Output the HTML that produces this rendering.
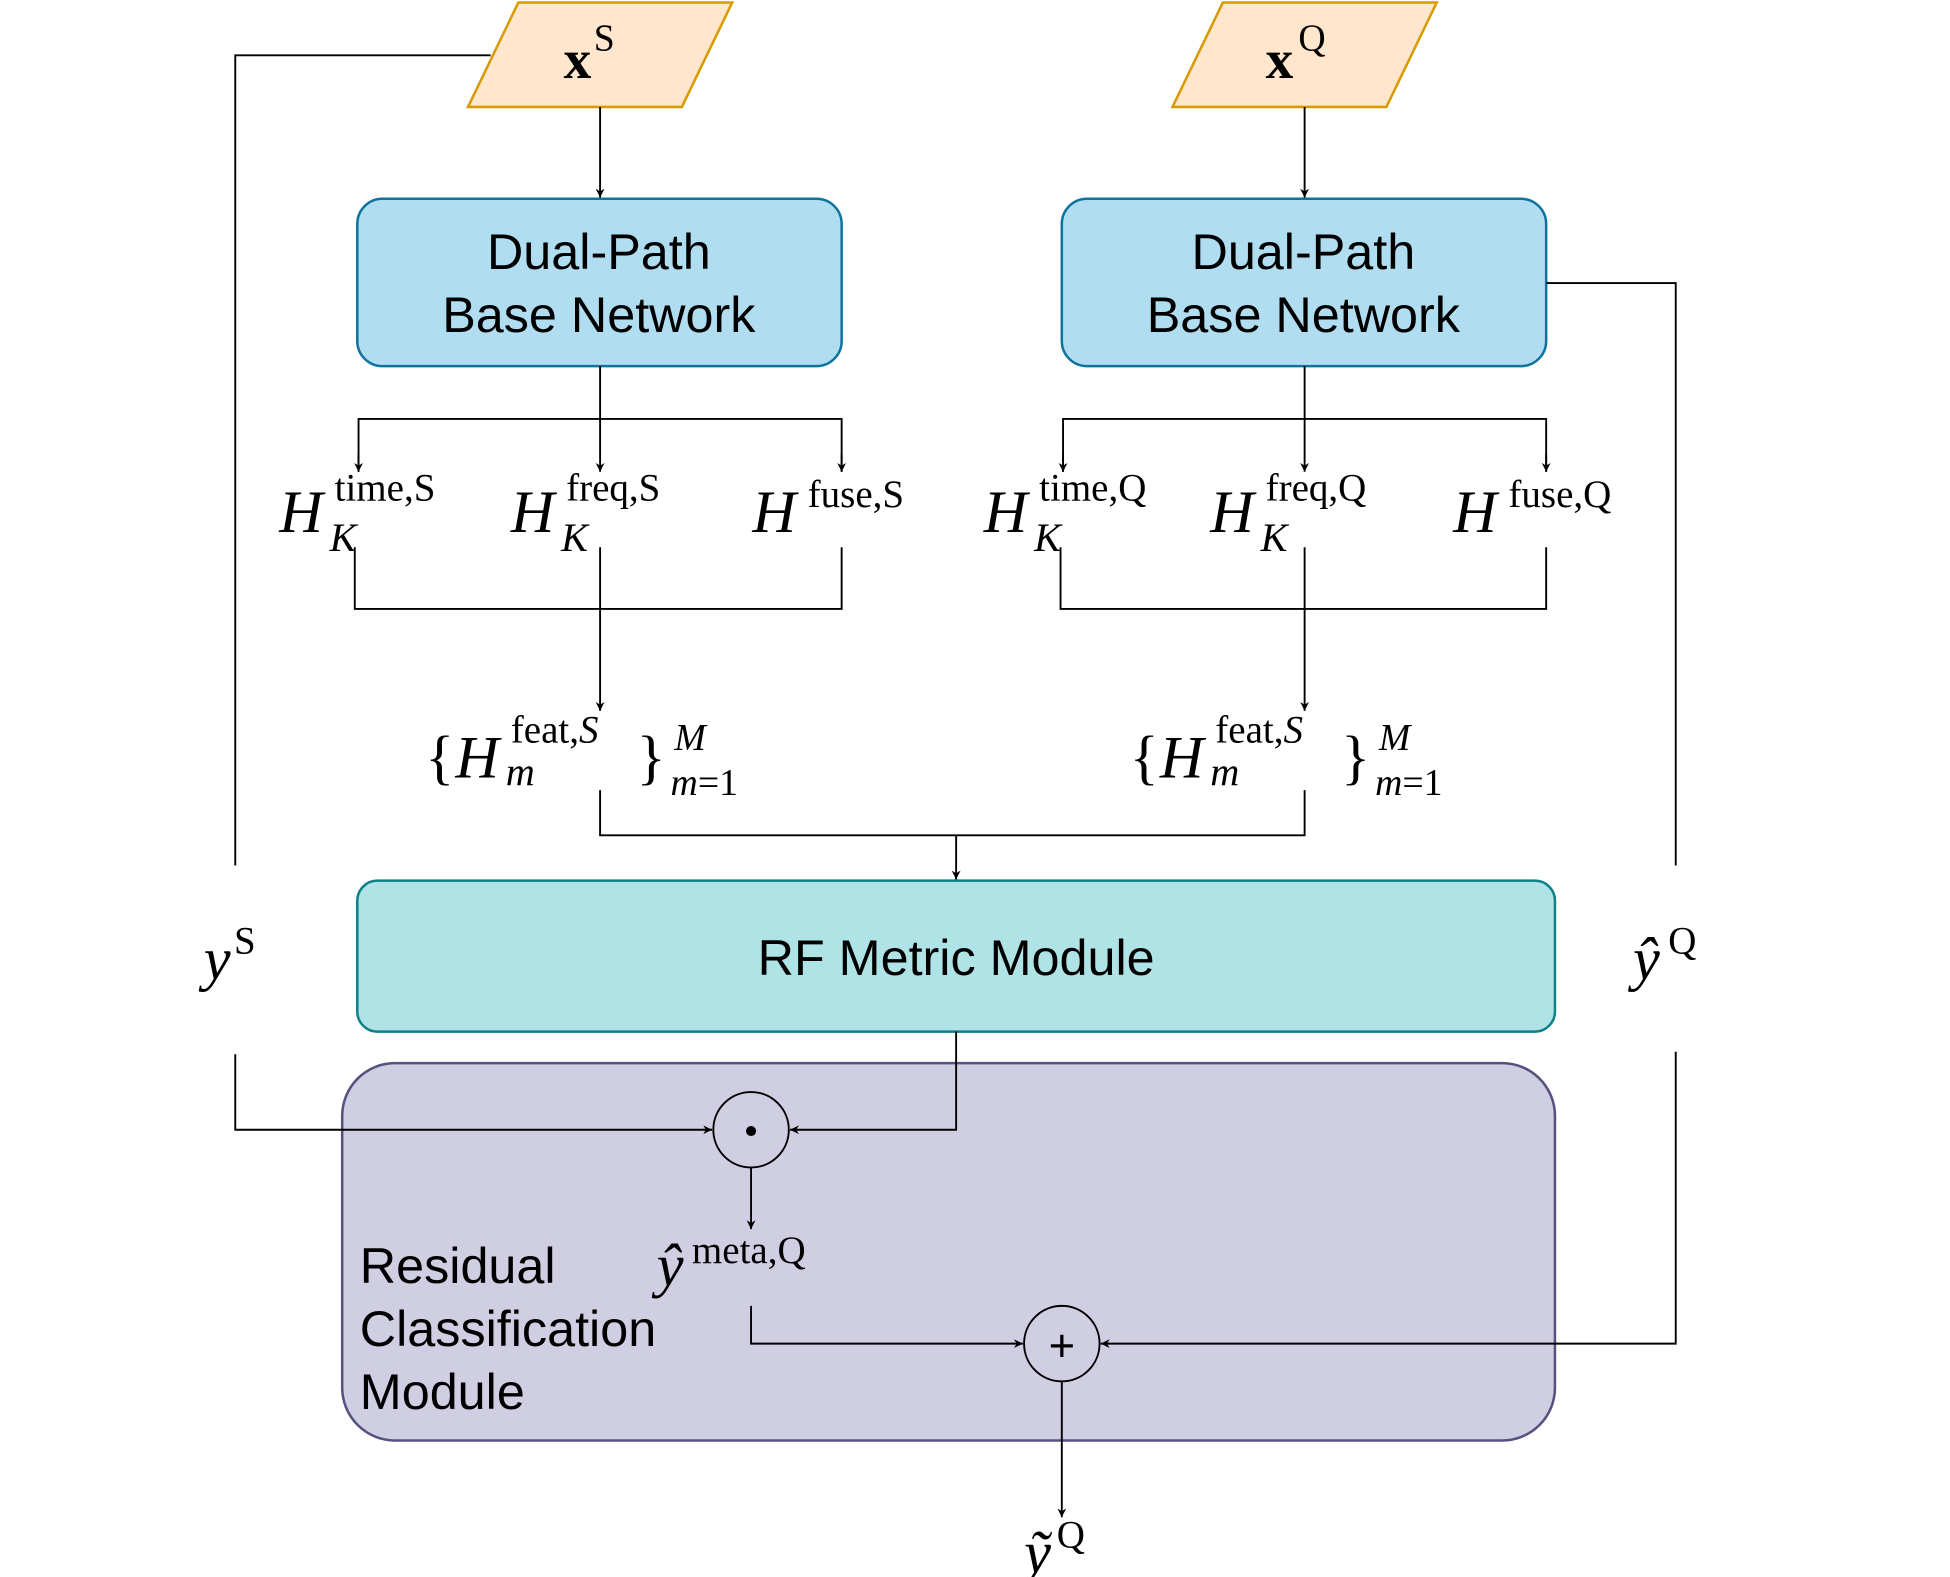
<!DOCTYPE html>
<html><head><meta charset="utf-8"><style>html,body{margin:0;padding:0;background:#fff}svg{display:block}</style></head>
<body>
<svg width="1950" height="1577" viewBox="0 0 1550 1253.5" xmlns="http://www.w3.org/2000/svg">
<defs><marker id="a" viewBox="0 0 10 10" refX="10" refY="5" markerWidth="7" markerHeight="9" orient="auto" markerUnits="userSpaceOnUse"><path d="M0,0 L10,5 L0,10 L3,5 Z" fill="#000"/></marker></defs>
<g fill="none" stroke="#000" stroke-width="1.5">
<polygon points="372,85 412,2 582,2 542,85" fill="#ffe6cc" stroke="#d79b00" stroke-width="2"/>
<polygon points="932,85 972,2 1142,2 1102,85" fill="#ffe6cc" stroke="#d79b00" stroke-width="2"/>
<rect x="284" y="158" width="385" height="133" rx="20" fill="#b1ddf0" stroke="#10739e" stroke-width="2"/>
<rect x="844" y="158" width="385" height="133" rx="20" fill="#b1ddf0" stroke="#10739e" stroke-width="2"/>
<rect x="272" y="845" width="964" height="300" rx="42" fill="#d0cee2" stroke="#56517e" stroke-width="2"/>
<rect x="284" y="700" width="952" height="120" rx="16" fill="#b0e3e6" stroke="#0e8088" stroke-width="2"/>
<line x1="477" y1="85" x2="477" y2="157" marker-end="url(#a)"/>
<line x1="1037" y1="85" x2="1037" y2="157" marker-end="url(#a)"/>
<polyline points="390,44 187,44 187,688"/>
<polyline points="187,838 187,898 566,898" marker-end="url(#a)"/>
<line x1="477" y1="291" x2="477" y2="375" marker-end="url(#a)"/>
<polyline points="285,375 285,333 669,333 669,375" />
<line x1="285" y1="360" x2="285" y2="375" marker-end="url(#a)"/>
<line x1="669" y1="360" x2="669" y2="375" marker-end="url(#a)"/>
<line x1="1037" y1="291" x2="1037" y2="375" marker-end="url(#a)"/>
<polyline points="845,375 845,333 1229,333 1229,375" />
<line x1="845" y1="360" x2="845" y2="375" marker-end="url(#a)"/>
<line x1="1229" y1="360" x2="1229" y2="375" marker-end="url(#a)"/>
<polyline points="282,435 282,484 669,484 669,435"/>
<polyline points="843,435 843,484 1229,484 1229,435"/>
<line x1="477" y1="435" x2="477" y2="565" marker-end="url(#a)"/>
<line x1="1037" y1="435" x2="1037" y2="565" marker-end="url(#a)"/>
<polyline points="477,628 477,664 1037,664 1037,628"/>
<line x1="760" y1="664" x2="760" y2="699" marker-end="url(#a)"/>
<polyline points="1229,225 1332,225 1332,688"/>
<polyline points="1332,836 1332,1068 875,1068" marker-end="url(#a)"/>
<polyline points="760,820 760,898 628,898" marker-end="url(#a)"/>
<circle cx="597" cy="898" r="30" fill="none"/>
<line x1="597" y1="928" x2="597" y2="977" marker-end="url(#a)"/>
<polyline points="597,1038 597,1068 813,1068" marker-end="url(#a)"/>
<circle cx="844" cy="1068" r="30" fill="none"/>
<line x1="844" y1="1098" x2="844" y2="1206" marker-end="url(#a)"/>
</g>
<circle cx="597" cy="899" r="4" fill="#000"/>
<text x="844" y="1082" font-family="Liberation Sans, sans-serif" font-size="36" text-anchor="middle">+</text>
<g font-family="Liberation Sans, sans-serif" font-size="40" fill="#000" text-anchor="middle">
<text x="476" y="214">Dual-Path</text><text x="476" y="264">Base Network</text>
<text x="1036" y="214">Dual-Path</text><text x="1036" y="264">Base Network</text>
<text x="760" y="775">RF Metric Module</text>
</g>
<g font-family="Liberation Sans, sans-serif" font-size="40" fill="#000">
<text x="286" y="1020">Residual</text><text x="286" y="1070">Classification</text><text x="286" y="1120">Module</text>
</g>
<g font-family="Liberation Serif, serif" fill="#000">
<text x="448" y="62" font-size="44" font-weight="bold">x</text><text x="472" y="40" font-size="30">S</text>
<text x="1006" y="62" font-size="44" font-weight="bold">x</text><text x="1032" y="40" font-size="30">Q</text>
<g font-size="48" font-style="italic">
<text x="222" y="423">H</text><text x="262" y="438" font-size="32">K</text><text x="266" y="398" font-size="31" font-style="normal">time,S</text>
<text x="406" y="423">H</text><text x="446" y="438" font-size="32">K</text><text x="450" y="398" font-size="31" font-style="normal">freq,S</text>
<text x="598" y="423">H</text><text x="642" y="403" font-size="31" font-style="normal">fuse,S</text>
<text x="782" y="423">H</text><text x="822" y="438" font-size="32">K</text><text x="826" y="398" font-size="31" font-style="normal">time,Q</text>
<text x="962" y="423">H</text><text x="1002" y="438" font-size="32">K</text><text x="1006" y="398" font-size="31" font-style="normal">freq,Q</text>
<text x="1155" y="423">H</text><text x="1199" y="403" font-size="31" font-style="normal">fuse,Q</text>
<text x="338" y="618" font-style="normal">{</text><text x="362" y="618">H</text><text x="402" y="624" font-size="32">m</text><text x="406" y="590" font-size="31"><tspan font-style="normal">feat,</tspan>S</text><text x="506" y="618" font-style="normal">}</text><text x="536" y="596" font-size="30">M</text><text x="533" y="632" font-size="30">m<tspan font-style="normal">=1</tspan></text>
<text x="898" y="618" font-style="normal">{</text><text x="922" y="618">H</text><text x="962" y="624" font-size="32">m</text><text x="966" y="590" font-size="31"><tspan font-style="normal">feat,</tspan>S</text><text x="1066" y="618" font-style="normal">}</text><text x="1096" y="596" font-size="30">M</text><text x="1093" y="632" font-size="30">m<tspan font-style="normal">=1</tspan></text>
<text x="162" y="778">y</text><text x="186" y="758" font-size="31" font-style="normal">S</text>
<text x="1298" y="778">ŷ</text><text x="1326" y="758" font-size="31" font-style="normal">Q</text>
<text x="522" y="1022">ŷ</text><text x="550" y="1004" font-size="31" font-style="normal">meta,Q</text>
<text x="814" y="1250">ỹ</text><text x="840" y="1230" font-size="31" font-style="normal">Q</text>
</g>
</g>
</svg>
</body></html>
